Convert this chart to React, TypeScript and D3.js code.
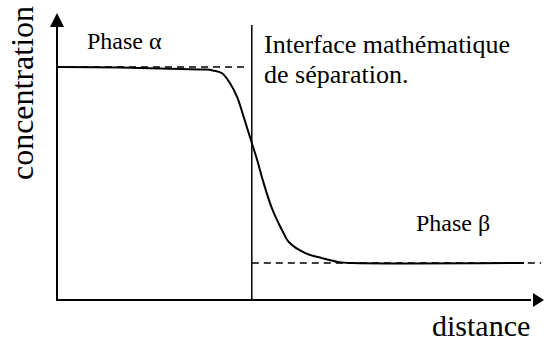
import React from 'react';
import * as d3 from 'd3';

// concentration profile across the interface (distance, concentration)
const profileX = [0, 1.29, 2.53, 3.04, 3.2, 3.39, 3.55, 3.7, 3.82, 4.0, 4.11, 4.23, 4.41, 4.64, 4.76, 5.09, 5.44, 5.79, 6.06, 9.59];
const profileY = [0.812, 0.81, 0.805, 0.803, 0.8, 0.79, 0.756, 0.707, 0.645, 0.547, 0.488, 0.415, 0.321, 0.237, 0.202, 0.164, 0.146, 0.132, 0.129, 0.129];

const levelAlpha = 0.812;
const levelBeta = 0.129;
const interfaceX = 4.0;
const interfaceTop = 0.958;
const alphaDashEnd = 3.9;
const betaDashEnd = 9.94;

const xLabel = 'distance';
const yLabel = 'concentration';
const phaseLabels = ['Phase α', 'Phase β'];
const interfaceLabel = ['Interface mathématique', 'de séparation.'];

const W = 544;
const H = 341;

export default function App() {
  const x = d3.scaleLinear().domain([0, 10]).range([57, 544]);
  const y = d3.scaleLinear().domain([0, 1]).range([300, 13]);

  const pts = profileX.map((d, i) => [d, profileY[i]] as [number, number]);
  const line = d3
    .line<[number, number]>()
    .x(d => x(d[0]))
    .y(d => y(d[1]))
    .curve(d3.curveCatmullRom.alpha(0.5));

  const x0 = x(0);
  const y0 = y(0);
  const xEnd = x(10);
  const yEnd = y(1);
  const ah = 14; // arrow head length
  const aw = 7; // half width

  const textStyle = {
    fontFamily: '"Liberation Serif", "Times New Roman", Tinos, "DejaVu Serif", serif',
  };

  return (
    <svg
      width={W}
      height={H}
      style={{ position: 'absolute', left: 0, top: 0, background: '#fff' }}
    >
      {/* axes */}
      <line x1={x0} y1={y0} x2={x0} y2={yEnd + ah} stroke="#000" strokeWidth={2} />
      <path d={`M${x0},${yEnd}L${x0 - aw},${yEnd + ah}L${x0 + aw},${yEnd + ah}Z`} fill="#000" />
      <line x1={x0 - 1} y1={y0} x2={xEnd - ah + 1} y2={y0} stroke="#000" strokeWidth={2} />
      <path d={`M${xEnd},${y0}L${xEnd - ah + 3},${y0 - aw}L${xEnd - ah + 3},${y0 + aw}Z`} fill="#000" />

      {/* phase levels */}
      <line x1={x(0)} x2={x(alphaDashEnd)} y1={y(levelAlpha)} y2={y(levelAlpha)} stroke="#000" strokeWidth={1.5} strokeDasharray="7,5" />
      <line x1={x(interfaceX)} x2={x(betaDashEnd)} y1={y(levelBeta)} y2={y(levelBeta)} stroke="#000" strokeWidth={1.5} strokeDasharray="7,5" />

      {/* interface */}
      <line x1={x(interfaceX)} x2={x(interfaceX)} y1={y(0)} y2={y(interfaceTop)} stroke="#000" strokeWidth={1.5} />

      {/* profile */}
      <path d={line(pts) || ''} fill="none" stroke="#000" strokeWidth={2} />

      {/* labels */}
      <g style={textStyle}>
        <text transform="translate(33,93) rotate(-90)" textAnchor="middle" fontSize={32}>
          {yLabel}
        </text>
        <text x={432} y={336} fontSize={30}>
          {xLabel}
        </text>
        <text x={87} y={49} fontSize={24}>
          {phaseLabels[0]}
        </text>
        <text x={416} y={231} fontSize={24}>
          {phaseLabels[1]}
        </text>
        <text x={264} y={53} fontSize={26}>
          {interfaceLabel[0]}
        </text>
        <text x={264} y={83} fontSize={26}>
          {interfaceLabel[1]}
        </text>
      </g>
    </svg>
  );
}
